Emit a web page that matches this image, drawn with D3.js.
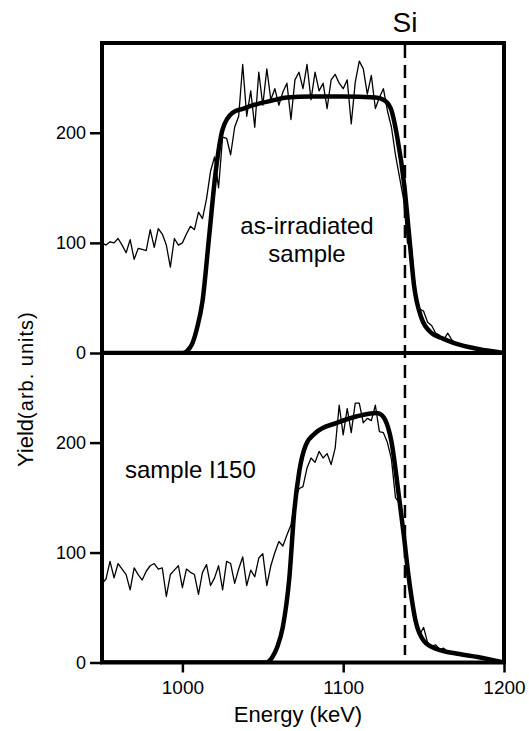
<!DOCTYPE html>
<html>
<head>
	<style>
		body { margin: 0; background: #fff; }
		text { font-family: "Liberation Sans", Arial, sans-serif; fill: #000; }
	</style>
	<script src="https://d3js.org/d3.v7.min.js"></script>
</head>
<body>
	<svg id="chart" width="529" height="731"></svg>
<script>
// energy grid of the measured spectra (keV), 2.5 keV channels
var energy = d3.range(0, 101).map(function(i){ return 950 + 2.5*i; });

// measured yield, as-irradiated sample (top)
var topMeasured = [
	100, 98, 101, 100, 104, 98, 91, 103, 85, 95,
	94, 93, 112, 96, 113, 108, 98, 78, 104, 98,
	100, 108, 115, 112, 128, 122, 140, 165, 178, 150,
	196, 195, 180, 205, 215, 262, 215, 238, 205, 255,
	225, 258, 230, 240, 225, 237, 245, 212, 248, 255,
	240, 262, 230, 255, 238, 245, 222, 248, 253, 245,
	240, 248, 208, 246, 265, 258, 235, 252, 222, 232,
	240, 220, 205, 180, 160, 140, 100, 95, 55, 40,
	38, 28, 25, 18, 16, 12, 18, 12, 8, 8,
	6, 5, 4, 3, 2, 2, 1, 0, 0, 0, 0
];

// measured yield, sample I150 (bottom)
var botMeasured = [
	72, 76, 92, 77, 90, 85, 80, 66, 86, 80,
	75, 83, 88, 90, 85, 86, 60, 80, 84, 88,
	68, 85, 82, 80, 62, 82, 89, 70, 77, 88,
	66, 92, 90, 72, 85, 96, 70, 84, 78, 95,
	99, 70, 88, 100, 110, 106, 116, 125, 148, 158,
	160, 177, 186, 182, 192, 186, 190, 180, 195, 234,
	207, 231, 209, 236, 236, 218, 222, 220, 234, 210,
	209, 200, 185, 150, 145, 115, 80, 60, 40, 25,
	32, 18, 15, 16, 12, 13, 10, 9, 8, 8,
	7, 6, 5, 5, 5, 4, 2, 1, 0, 0, 0
];

// simulated (fit) curves: [energy, yield]
var topFit = [
	[950,0],[1000,0],[1003,2],[1006,8],[1009,22],[1012.5,47],[1016.7,107],[1020.9,167],
	[1025,203],[1031,218],[1038,222],[1044,225],[1055,229],[1065,232],[1080,233],
	[1100,233],[1120,232],[1125,230],[1129.6,222],[1133.5,197],[1138,152],[1141,107],
	[1144,62],[1148.6,32],[1155,18],[1162,13],[1169,9],[1184,3.6],[1200,0]
];
var botFit = [
	[950,0],[1052,0],[1056,5],[1059,14],[1062.4,32],[1066.5,77],[1069.6,138],[1072.7,174],
	[1076.8,198],[1083,209],[1096,218],[1108.6,224],[1121,227],[1124,225],[1126,221],
	[1130,201],[1134.5,153],[1137.6,117],[1140.8,77],[1145,38],[1150,20],[1158.5,12],
	[1171,8],[1183.7,5],[1200,0]
];

var xTicks = [1000, 1100, 1200];
var yTicks = [0, 100, 200];
var siEnergy = 1138.4;

var svg = d3.select("#chart");
var left = 102, right = 504;
var panels = [
	{ top: 43, bottom: 353, measured: topMeasured, fit: topFit, id: "top" },
	{ top: 353, bottom: 662.5, measured: botMeasured, fit: botFit, id: "bot" }
];

var x = d3.scaleLinear().domain([950, 1200]).range([left, right]);

panels.forEach(function(p){
	var y = d3.scaleLinear().domain([0, 281.5]).range([p.bottom, p.top]);

	svg.append("clipPath").attr("id", "clip-" + p.id)
		.append("rect")
		.attr("x", left).attr("y", p.top - 20)
		.attr("width", right - left).attr("height", p.bottom - p.top + 20);

	var g = svg.append("g").attr("clip-path", "url(#clip-" + p.id + ")");

	var measLine = d3.line()
		.x(function(d, i){ return x(energy[i]); })
		.y(function(d){ return y(d); });
	g.append("path")
		.datum(p.measured)
		.attr("d", measLine)
		.attr("fill", "none")
		.attr("stroke", "#000")
		.attr("stroke-width", 1.3)
		.attr("stroke-linejoin", "round");

	var fitLine = d3.line()
		.curve(d3.curveMonotoneX)
		.x(function(d){ return x(d[0]); })
		.y(function(d){ return y(d[1]); });
	g.append("path")
		.datum(p.fit)
		.attr("d", fitLine)
		.attr("fill", "none")
		.attr("stroke", "#000")
		.attr("stroke-width", 4.5)
		.attr("stroke-linejoin", "round");

	// y axis
	var yAxis = d3.axisLeft(y).tickValues(yTicks).tickSize(12).tickPadding(4).tickFormat(d3.format("d"));
	var ya = svg.append("g").attr("transform", "translate(" + left + ",0)").call(yAxis);
	ya.select(".domain").remove();
	ya.selectAll(".tick line").attr("stroke", "#000").attr("stroke-width", 2.5);
	ya.selectAll(".tick text").style("font-size", "18px").style("font-family", "Liberation Sans, Arial, sans-serif");
});

// Si surface position
svg.append("line")
	.attr("x1", x(siEnergy)).attr("x2", x(siEnergy))
	.attr("y1", 45).attr("y2", 655)
	.attr("stroke", "#000")
	.attr("stroke-width", 2.5)
	.attr("stroke-dasharray", "13,7");

svg.append("text")
	.attr("x", x(siEnergy)).attr("y", 32)
	.attr("text-anchor", "middle")
	.style("font-size", "28px")
	.text("Si");

// frames
svg.append("rect")
	.attr("x", left).attr("y", 43)
	.attr("width", right - left).attr("height", 662.5 - 43)
	.attr("fill", "none").attr("stroke", "#000").attr("stroke-width", 4);
svg.append("line")
	.attr("x1", left).attr("x2", right).attr("y1", 353).attr("y2", 353)
	.attr("stroke", "#000").attr("stroke-width", 4);

// x axis
var xAxis = d3.axisBottom(x).tickValues(xTicks).tickSize(10).tickPadding(8).tickFormat(d3.format("d"));
var xa = svg.append("g").attr("transform", "translate(0,662.5)").call(xAxis);
xa.select(".domain").remove();
xa.selectAll(".tick line").attr("stroke", "#000").attr("stroke-width", 2.5);
xa.selectAll(".tick text").style("font-size", "19px").style("font-family", "Liberation Sans, Arial, sans-serif");

svg.append("text")
	.attr("x", 298).attr("y", 722)
	.attr("text-anchor", "middle")
	.style("font-size", "22px")
	.text("Energy (keV)");

var yl = svg.append("text")
	.attr("transform", "translate(33,467) rotate(-90)")
	.attr("text-anchor", "start");
yl.append("tspan").style("font-size", "22px").text("Yield");
yl.append("tspan").style("font-size", "20px").style("letter-spacing", "1px").text("(arb. units)");

// panel labels
svg.append("text")
	.attr("x", 307).attr("y", 234)
	.attr("text-anchor", "middle")
	.style("font-size", "24px")
	.text("as-irradiated");
svg.append("text")
	.attr("x", 307).attr("y", 262)
	.attr("text-anchor", "middle")
	.style("font-size", "24px")
	.text("sample");
svg.append("text")
	.attr("x", 125).attr("y", 478)
	.style("font-size", "24px")
	.text("sample I150");
</script>
</body>
</html>
